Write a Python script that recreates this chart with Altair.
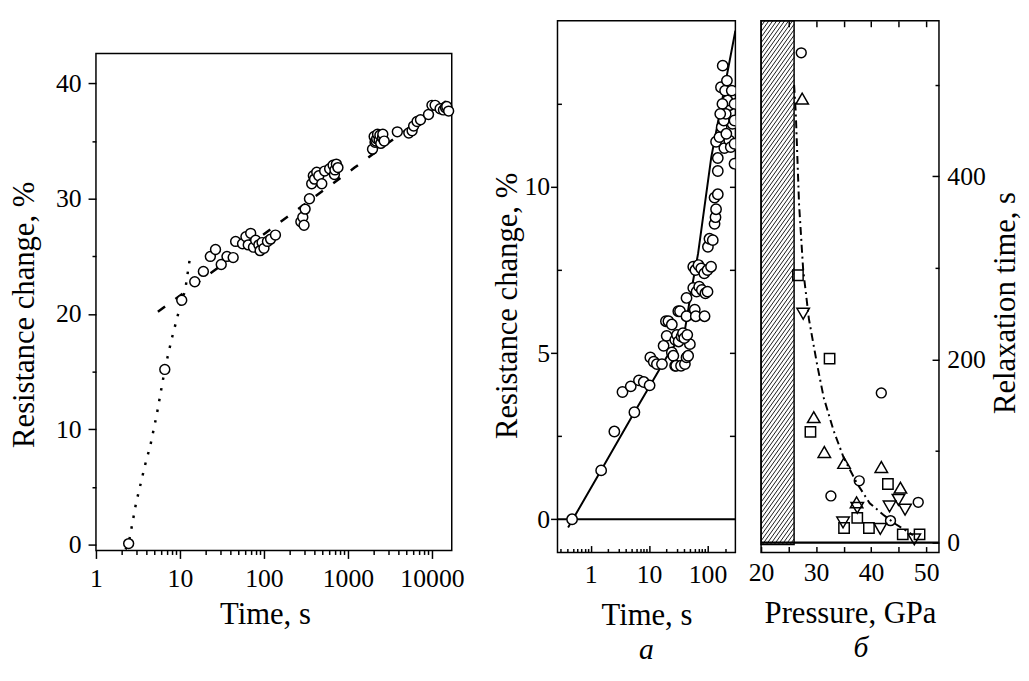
import altair as alt
import numpy as np
import pandas as pd

FONT = "Liberation Serif"
TICK_FS = 26
TITLE_FS = 31

# ---------------- left panel: resistance change vs time (long run) ----------------
left_time = [2.45, 6.6, 10.5, 15, 19, 23, 26.5, 31, 36.3, 43, 46, 55.6, 61, 65, 69.5, 75, 79.6, 87, 90, 95, 100, 110, 120, 137,
             275, 290, 300, 309, 348, 370, 387, 400, 425, 450, 488, 528, 605, 665, 690, 700, 728, 760,
             1960, 2050, 2100, 2150, 2200, 2250, 2350, 2400, 2460, 2580, 2600, 2700,
             3870, 5300, 5800, 6050, 6650, 7300, 9100, 10000, 10900, 12500, 13700, 14500, 15000, 15800]
left_change = [0.1, 15.2, 21.2, 22.8, 23.7, 25.0, 25.6, 24.3, 25.0, 24.9, 26.3, 26.1, 26.7, 26.0, 27.0, 25.8, 26.4, 26.0, 25.5, 26.2, 25.7, 26.3, 26.5, 26.85,
               28.0, 28.4, 27.7, 29.1, 30.0, 31.3, 32.0, 31.7, 32.3, 32.0, 31.3, 32.4, 32.6, 32.9, 32.1, 32.5, 33.0, 32.7,
               34.3, 35.4, 34.9, 35.0, 35.2, 35.6, 35.1, 35.5, 34.8, 35.3, 35.6, 35.0,
               35.8, 35.7, 35.9, 36.3, 36.7, 36.85, 37.3, 38.1, 38.1, 37.8, 37.7, 37.9, 38.0, 37.6]
dot_time = [2.25, 2.45, 3.0, 3.87, 4.44, 5.3, 6.6, 7.97, 10.5, 11.5, 13.1]
dot_change = [-0.4, 0.1, 3.6, 7.0, 8.6, 11.3, 15.2, 17.85, 21.2, 22.0, 24.8]
dash_time = [5.46, 205, 1200, 3090, 17200]
dash_change = [20.2, 28.6, 32.7, 34.9, 38.8]
left_major_x = [1, 10, 100, 1000, 10000]
left_major_y = [0, 10, 20, 30, 40]
left_minor_y = [5, 15, 25, 35]

# ---------------- middle panel (a) ----------------
mid_time = [0.48, 1.51, 2.54, 3.5, 4.85, 5.6, 6.7, 8.1, 10.2, 10.5,
            12, 13.6, 16.6, 17.7, 19.4, 20, 21.4, 24.5, 24.5, 26,
            27.9, 29, 31.6, 33.8, 33.8, 35.2, 41, 43.7, 43.7, 46.6,
            49.9, 28, 30, 32, 36, 38, 40, 45, 43.7, 57,
            60.5, 63, 89, 65, 72, 80, 92, 100, 57, 62,
            70, 78, 88, 100, 115, 101.6, 108, 123, 132, 137,
            140, 132, 150, 150, 150, 140, 194, 236, 268, 236,
            170, 182, 160, 175, 190, 205, 220, 200, 180, 165,
            210, 250, 290, 290, 290, 290, 260, 215]
mid_change = [0.0, 1.47, 2.64, 3.83, 4.0, 3.22, 4.18, 4.13, 4.03, 4.87,
              4.74, 4.67, 4.67, 5.22, 5.96, 5.52, 5.96, 5.86, 5.02, 4.92,
              4.62, 4.62, 6.26, 6.26, 5.47, 4.62, 4.67, 4.87, 6.11, 4.92,
              5.27, 5.4, 5.55, 5.35, 5.5, 5.6, 5.45, 5.55, 6.66, 6.96,
              6.31, 6.11, 6.11, 6.85, 7.0, 6.9, 6.8, 6.85, 7.6, 7.5,
              7.65, 7.55, 7.4, 7.5, 7.6, 8.2, 8.44, 8.4, 8.89, 9.09,
              9.33, 9.68, 9.78, 10.48, 10.87, 11.36, 11.17, 11.4, 11.9, 12.46,
              13.0, 13.65, 11.5, 11.8, 12.0, 12.2, 12.6, 12.9, 12.5, 12.2,
              11.6, 11.2, 12.5, 12.0, 11.3, 10.7, 12.9, 13.2]
mid_fit_time = [0.41, 1.5, 5.6, 20, 41, 53, 69, 116, 300]
mid_fit_change = [-0.25, 1.47, 3.22, 4.88, 5.7, 6.9, 8.0, 10.9, 14.7]
mid_major_x = [1, 10, 100]
mid_major_y = [0, 5, 10]
mid_minor_y = [2.5, 7.5, 12.5]
mid_right_y = [2.5, 5, 7.5, 10, 12.5]

# ---------------- right panel (b) ----------------
circ_p = [27.3, 41.85, 32.69, 37.84, 48.56, 43.52]
circ_t = [535, 163.5, 51, 67.5, 44, 24]
up_p = [27.47, 29.57, 31.49, 35.08, 41.85, 45.32, 37.36]
up_t = [485, 137, 99, 87, 82.6, 60, 44]
sq_p = [26.7, 32.45, 28.97, 37.48, 35.08, 39.6, 43.05, 45.75, 48.8]
sq_t = [292, 201, 121, 27, 16, 16, 64, 9, 9]
down_p = [27.65, 34.9, 37.48, 41.67, 43.35, 44.97, 46.17, 47.84]
down_t = [250, 22, 38, 15, 39.5, 46.7, 36, 3.6]
fit_p = [26.0, 26.3, 26.9, 27.65, 28.7, 30.2, 31.4, 33.2, 35.0, 37.4, 39.75, 42.2, 44.5, 46.9, 47.6]
fit_t = [500, 470, 370, 298, 244, 194, 158, 122, 93, 65, 43, 30.5, 20, 11, 8]
hatch_p = [20, 26]
hatch_t = [-2, 570]
right_x_ticks = [20, 25, 30, 35, 40, 45, 50]
right_major_y = [0, 200, 400]
right_minor_y = [100, 300, 500]

# ---------------- sizes / scales ----------------
LW, LH = 360, 503
MW, MH = 180, 538
RW, RH = 180, 538
LEFT_DROP = 31

l_x = alt.Scale(type="log", domain=[1, 17200], nice=False)
l_y = alt.Scale(domain=[-0.5, 42.6], nice=False, zero=False)
m_x = alt.Scale(type="log", domain=[0.27, 300], nice=False)
m_y = alt.Scale(domain=[-1, 15], nice=False, zero=False)
r_xd = [20, 52.33]
r_yd = [-10.8, 570]
r_x = alt.Scale(domain=r_xd, nice=False, zero=False)
r_y = alt.Scale(domain=r_yd, nice=False, zero=False)


def ax(**kw):
    base = dict(labelFont=FONT, titleFont=FONT, labelFontSize=TICK_FS, titleFontSize=TITLE_FS,
                labelColor="black", titleColor="black", tickColor="black", domain=False,
                grid=False, labelFlush=False, labelOverlap=False, titleFontWeight="normal",
                tickWidth=1.5)
    base.update(kw)
    return alt.Axis(**base)


# ---------------- left panel ----------------
left_minor_x = [m * 10 ** e for e in range(0, 5) for m in range(2, 10) if m * 10 ** e <= 17200]

left_pts = alt.Chart(pd.DataFrame({"t": left_time, "r": left_change})).mark_point(
    shape="circle", filled=True, fill="white", stroke="black", strokeWidth=1.5, size=100, opacity=1
).encode(
    x=alt.X("t:Q", scale=l_x, axis=ax(orient="bottom", values=left_major_x, tickSize=8, labelPadding=7,
                                       format="d", title="Time, s", titlePadding=9, titleX=171)),
    y=alt.Y("r:Q", scale=l_y, axis=ax(orient="left", values=left_major_y, tickSize=8, labelPadding=7,
                                       title="Resistance change, %", titlePadding=15, titleY=264)),
)
left_dot = alt.Chart(pd.DataFrame({"t": dot_time, "r": dot_change})).mark_line(
    color="black", strokeWidth=2.5, strokeDash=[2.5, 8.5], clip=True
).encode(
    x=alt.X("t:Q", scale=l_x, axis=ax(orient="bottom", values=left_minor_x, tickSize=4, labels=False, title=None)),
    y=alt.Y("r:Q", scale=l_y, axis=ax(orient="left", values=left_minor_y, tickSize=4, labels=False, title=None)),
)
left_dash = alt.Chart(pd.DataFrame({"t": dash_time, "r": dash_change})).mark_line(
    color="black", strokeWidth=2.5, strokeDash=[9, 13], clip=True
).encode(
    x=alt.X("t:Q", scale=l_x, axis=None),
    y=alt.Y("r:Q", scale=l_y, axis=None),
)
left_plot = alt.layer(left_dot, left_dash, left_pts).resolve_axis(x="independent", y="independent").properties(
    width=LW, height=LH
)
# invisible spacer that lowers the left panel relative to the other two
spacer = alt.Chart(pd.DataFrame({"v": [0]})).mark_rect(opacity=0).encode(
    x=alt.value(0), x2=alt.value(LW), y=alt.value(0), y2=alt.value(LEFT_DROP)
).properties(width=LW, height=LEFT_DROP, view=alt.ViewBackground(stroke="transparent"))
left = alt.vconcat(spacer, left_plot, spacing=0)

# ---------------- middle panel ----------------
mid_minor_x = sorted(set([round(m * 10 ** e, 6) for e in range(-1, 3) for m in range(2, 10)
                          if 0.27 <= m * 10 ** e < 300] + [0.3]))

mid_pts = alt.Chart(pd.DataFrame({"t": mid_time, "r": mid_change})).mark_point(
    shape="circle", filled=True, fill="white", stroke="black", strokeWidth=1.5, size=110, opacity=1, clip=True
).encode(
    x=alt.X("t:Q", scale=m_x, axis=ax(orient="bottom", values=mid_major_x, offset=-7, tickSize=7, labelPadding=9,
                                       format="d", title="Time, s", titlePadding=14)),
    y=alt.Y("r:Q", scale=m_y, axis=ax(orient="left", values=mid_major_y, tickSize=7, labelPadding=1,
                                       title="Resistance change, %", titlePadding=0, titleY=288)),
)
mid_fit = alt.Chart(pd.DataFrame({"t": mid_fit_time, "r": mid_fit_change})).mark_line(
    color="black", strokeWidth=2, clip=True
).encode(
    x=alt.X("t:Q", scale=m_x, axis=ax(orient="bottom", values=mid_minor_x, offset=-4, tickSize=4, labels=False, title=None)),
    y=alt.Y("r:Q", scale=m_y, axis=ax(orient="left", values=mid_minor_y, offset=-4, tickSize=4, labels=False, title=None)),
)
mid_zero = alt.Chart(pd.DataFrame({"r": [0]})).mark_rule(color="black", strokeWidth=2).encode(
    y=alt.Y("r:Q", scale=m_y, axis=ax(orient="right", values=mid_right_y, offset=-6, tickSize=6, labels=False, title=None)),
)
middle = alt.layer(mid_zero, mid_fit, mid_pts).resolve_axis(x="independent", y="independent").properties(
    width=MW, height=MH,
    title=alt.TitleParams("а", orient="bottom", font=FONT, fontSize=30, fontStyle="italic", fontWeight="normal",
                          frame="group", anchor="middle", baseline="top", offset=5),
)

# ---------------- right panel ----------------
px_p = RW / (r_xd[1] - r_xd[0])
px_t = RH / (r_yd[1] - r_yd[0])
k = 1.4 * px_p / px_t          # hatch slope in data units
step = 5.6 / px_t              # hatch spacing along t
segs = []
c = hatch_t[0] - k * (hatch_p[1] - hatch_p[0])
while c < hatch_t[1]:
    p0 = max(hatch_p[0], hatch_p[0] + (hatch_t[0] - c) / k)
    p1 = min(hatch_p[1], hatch_p[0] + (hatch_t[1] - c) / k)
    if p1 > p0:
        segs.append((p0, c + k * (p0 - hatch_p[0]), p1, c + k * (p1 - hatch_p[0])))
    c += step
hatch_df = pd.DataFrame(segs, columns=["p", "t", "p2", "t2"])

hatch_lines = alt.Chart(hatch_df).mark_rule(color="black", strokeWidth=0.9).encode(
    x=alt.X("p:Q", scale=r_x, axis=None), x2="p2:Q",
    y=alt.Y("t:Q", scale=r_y, axis=None), y2="t2:Q",
)
hatch_box = alt.Chart(pd.DataFrame({"p": [hatch_p[0]], "p2": [hatch_p[1]], "t": [hatch_t[0]], "t2": [hatch_t[1]]})).mark_rect(
    fillOpacity=0, stroke="black", strokeWidth=1.5
).encode(
    x=alt.X("p:Q", scale=r_x, axis=None), x2="p2:Q",
    y=alt.Y("t:Q", scale=r_y, axis=None), y2="t2:Q",
)
r_zero = alt.Chart(pd.DataFrame({"t": [0]})).mark_rule(color="black", strokeWidth=2.5).encode(
    y=alt.Y("t:Q", scale=r_y, axis=None),
)
r_fit = alt.Chart(pd.DataFrame({"p": fit_p, "t": fit_t})).mark_line(
    color="black", strokeWidth=2, strokeDash=[8, 4, 2, 4], clip=True
).encode(
    x=alt.X("p:Q", scale=r_x, axis=ax(orient="top", values=right_x_ticks[1:], offset=-6, tickSize=6, labels=False, title=None)),
    y=alt.Y("t:Q", scale=r_y, axis=ax(orient="right", values=right_minor_y, offset=-4, tickSize=4, labels=False, title=None)),
)


def sym(ps, ts, shape, size):
    return alt.Chart(pd.DataFrame({"p": ps, "t": ts})).mark_point(
        shape=shape, filled=False, stroke="black", strokeWidth=1.5, size=size, opacity=1, clip=True
    )


r_circ = sym(circ_p, circ_t, "circle", 100).encode(
    x=alt.X("p:Q", scale=r_x, axis=ax(orient="bottom", values=right_x_ticks, offset=-6, tickSize=6, labelPadding=7,
                                       labelExpr="datum.value % 10 == 0 ? datum.label : ''",
                                       title="Pressure, GPa", titlePadding=14)),
    y=alt.Y("t:Q", scale=r_y, axis=ax(orient="right", values=right_major_y, offset=-7, tickSize=7, labelPadding=8,
                                       labelAlign="left", title="Relaxation time, s", titleAngle=270,
                                       titleBaseline="top", titlePadding=5, titleY=285)),
)
r_up = sym(up_p, up_t, "triangle-up", 160).encode(x=alt.X("p:Q", scale=r_x, axis=None), y=alt.Y("t:Q", scale=r_y, axis=None))
r_sq = sym(sq_p, sq_t, "square", 110).encode(x=alt.X("p:Q", scale=r_x, axis=None), y=alt.Y("t:Q", scale=r_y, axis=None))
r_down = sym(down_p, down_t, "triangle-down", 160).encode(x=alt.X("p:Q", scale=r_x, axis=None), y=alt.Y("t:Q", scale=r_y, axis=None))

right = alt.layer(hatch_lines, hatch_box, r_zero, r_fit, r_circ, r_up, r_sq, r_down).resolve_axis(
    x="independent", y="independent"
).properties(
    width=RW, height=RH,
    title=alt.TitleParams("б", orient="bottom", font=FONT, fontSize=30, fontStyle="italic", fontWeight="normal",
                          frame="group", anchor="middle", baseline="top", offset=5, dx=11),
)

chart = alt.hconcat(left, alt.hconcat(middle, right, spacing=10), spacing=26).configure(
    font=FONT
).configure_view(
    stroke="black", strokeWidth=1.5
).properties(
    padding={"left": 0, "top": 7, "right": 0, "bottom": 5}, background="white"
)

chart.save("out.html", embed_options={"renderer": "svg", "actions": False})
